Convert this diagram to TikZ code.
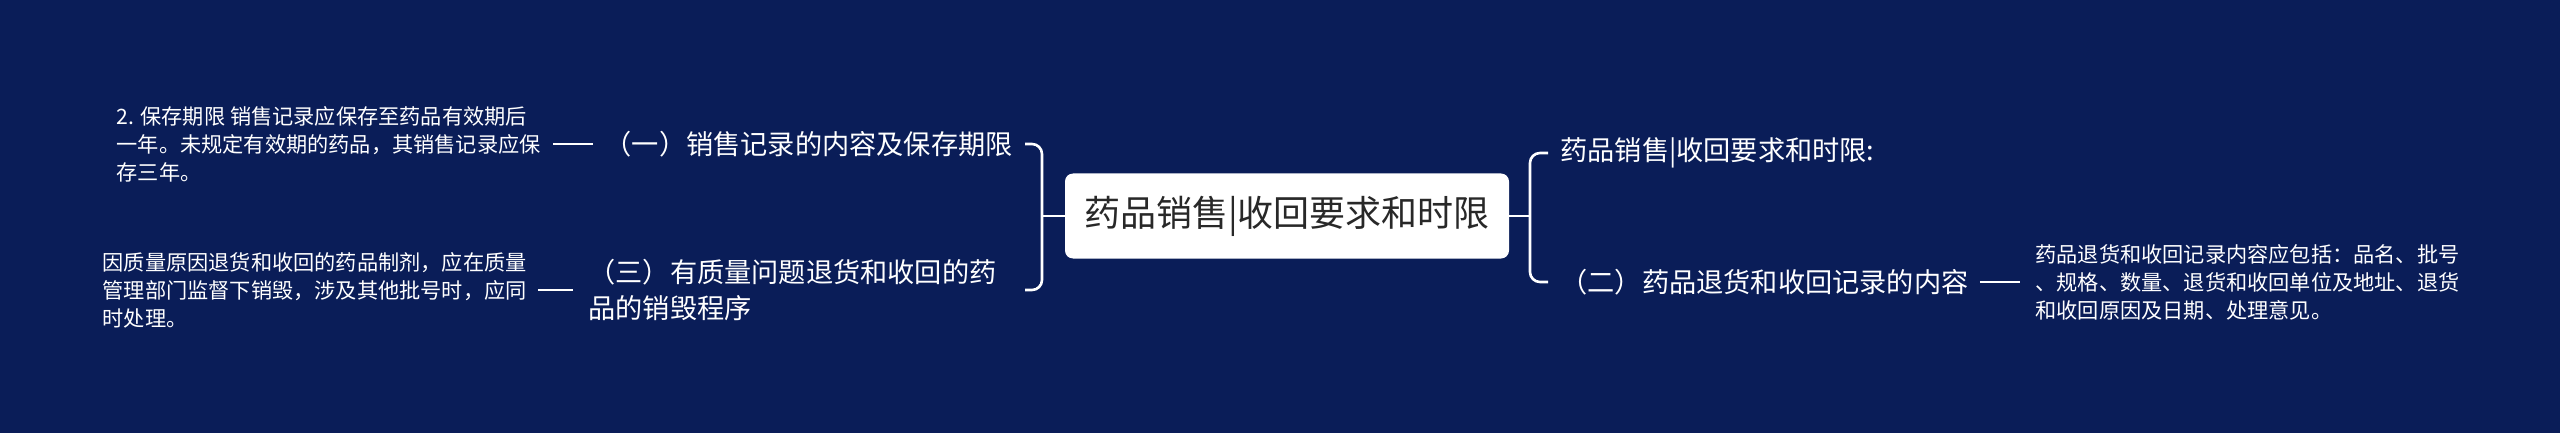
\documentclass[tikz,border=0pt]{standalone}
\usepackage{fontspec}
\setmainfont{Noto Sans CJK SC}
\usetikzlibrary{calc}
\definecolor{bgnavy}{RGB}{10,29,88}
\definecolor{rootink}{RGB}{40,40,40}
\begin{document}
\begin{tikzpicture}[x=0.5pt,y=-0.5pt,
    wire/.style={draw=white,line width=1.3pt},
    rootbox/.style={fill=white,rounded corners=4pt,minimum width=222pt,minimum height=42.5pt,inner sep=0pt,text=rootink,font=\fontsize{18pt}{22pt}\selectfont},
    topic/.style={text=white,inner sep=0pt,align=left,font=\fontsize{13.6pt}{18pt}\selectfont},
    leaf/.style={text=white,inner sep=0pt,align=left,font=\fontsize{10.6pt}{14pt}\selectfont}]
        \fill[bgnavy] (0,0) rectangle (2560,433);
        \useasboundingbox (0,0) rectangle (2560,433);

        \node[rootbox] (root) at (1287,216) {药品销售|收回要求和时限};

        \node[topic,anchor=east] (c1) at (1013,144) {（一）销售记录的内容及保存期限};
        \node[topic,anchor=west] (c3) at (588,290) {（三）有质量问题退货和收回的药\\品的销毁程序};
        \node[topic,anchor=west] (t1) at (1560,153) {药品销售|收回要求和时限:};
        \node[topic,anchor=west] (c2) at (1560,282) {（二）药品退货和收回记录的内容};

        \node[leaf,anchor=east] (l1) at (541,144) {2. 保存期限 销售记录应保存至药品有效期后\\一年。未规定有效期的药品，其销售记录应保\\存三年。};
        \node[leaf,anchor=east] (l3) at (527,290) {因质量原因退货和收回的药品制剂，应在质量\\管理部门监督下销毁，涉及其他批号时，应同\\时处理。};
        \node[leaf,anchor=west] (l2) at (2035,282) {药品退货和收回记录内容应包括：品名、批号\\、规格、数量、退货和收回单位及地址、退货\\和收回原因及日期、处理意见。};

        \coordinate (lj) at (1042,216);
        \coordinate (la) at ($(c1.east)+(12,0)$);
        \coordinate (rj) at (1530,216);
        \draw[wire] (root.west) -- (lj);
        \draw[wire,rounded corners=5pt] (la) -| (lj) |- (la |- c3.east);
        \draw[wire] (root.east) -- (rj);
        \draw[wire,rounded corners=5pt] ($(t1.west)+(-12,0)$) -| (rj) |- ($(c2.west)+(-12,0)$);

        \draw[wire,shorten <=6pt,shorten >=5.5pt] (l1.east) -- (c1.west);
        \draw[wire,shorten <=5.5pt,shorten >=7.5pt] (l3.east) -- (c3.west);
        \draw[wire,shorten <=5.5pt,shorten >=7.5pt] (c2.east) -- (l2.west);
\end{tikzpicture}
\end{document}
